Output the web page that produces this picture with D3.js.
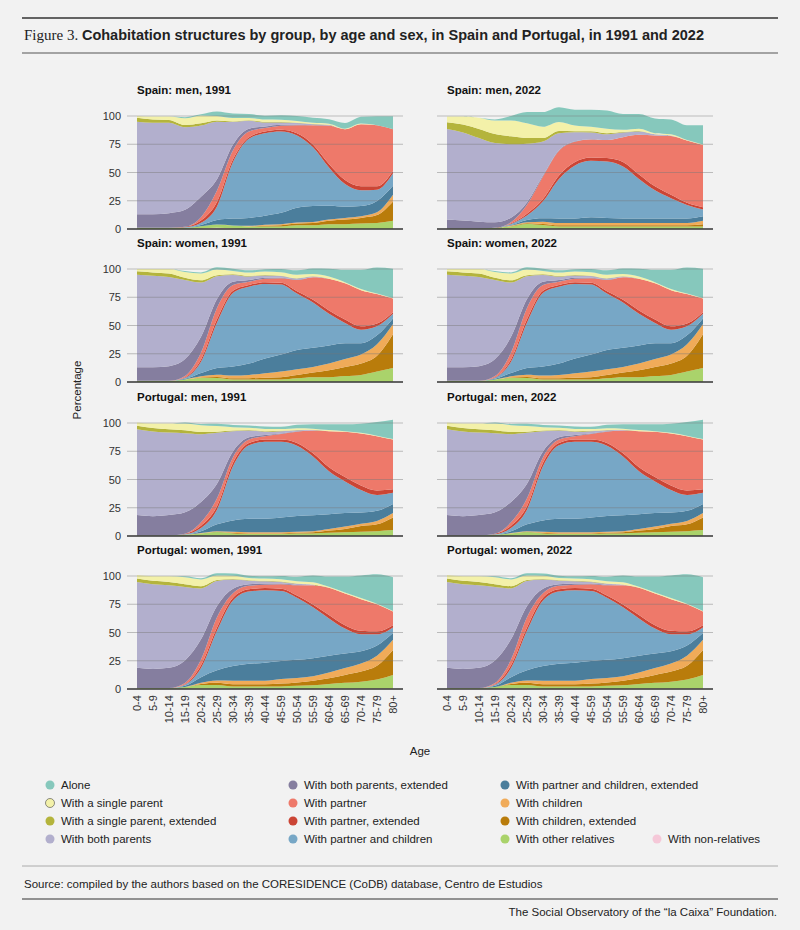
<!DOCTYPE html>
<html>
<head>
<meta charset="utf-8">
<script src="https://cdn.jsdelivr.net/npm/d3@7"></script>
<style>
  body { margin: 0; background: #f2f2f2; }
  svg { font-family: "Liberation Sans", Arial, sans-serif; }
</style>
</head>
<body>
<svg id="chart" width="800" height="930"></svg>
<script>
const ages = ["0-4","5-9","10-14","15-19","20-24","25-29","30-34","35-39","40-44","45-59","50-54","55-59","60-64","65-69","70-74","75-79","80+"];

// series keys, legend order (stack goes from the last one upward)
const keys = ["alone","sp","spExt","both","bothExt","partner","partnerExt","pc","pcExt","children","childrenExt","otherRel","nonRel"];
const labels = ["Alone","With a single parent","With a single parent, extended","With both parents","With both parents, extended",
  "With partner","With partner, extended","With partner and children","With partner and children, extended",
  "With children","With children, extended","With other relatives","With non-relatives"];
const colors = ["#86c8bc","#f3f1a9","#b4b43c","#b2afcd","#857e9f","#ee796a","#cb4535","#77a7c6","#4b7e9c","#f0ab59","#b97c0b","#aad36b","#f5c8d8"];

// each row = one series (same order as keys), 17 age groups
const spainMen1991 = [
  [0,0,0,1,1,4,4,3.5,3.5,4,4.5,4.5,4,5,6,8,11.5],
  [1.5,2.5,3,6,7,4,3,2,2,2,1.5,1,1,0.5,0.5,0,0],
  [3.5,3,2.5,2,2,1,0.5,0.5,0.5,0.3,0.3,0.2,0.2,0,0,0,0],
  [82,81,80,73,63,51,20,7,3.5,2,1.5,1,0.5,0,0,0,0],
  [12,12,13,15,18,10,5,2.5,1.5,1,0.5,0,0,0,0,0,0],
  [0,0,0,0,3,10,8,5,3,3.5,7,17,34,45,55,54,37],
  [0,0,0,0.5,2,4,2.5,1.5,1.5,1.5,2,2.5,3,3.5,3.5,3,2],
  [0,0,0,0.5,2,12,50,70,73,72,64,52,34,20,14,10,11],
  [0,0,0,0,1,4,6,7,8,10,13,14,12,10,9,10,8],
  [0,0,0,0,0,0,0.2,0.5,1,1,1,1,1.2,1.5,1.5,2.5,6],
  [0,0,0,0,0,0,0,0,0.5,1,1.5,2,3,4,5,7,17],
  [1,1,1,1,2,3,2.5,2,2,2,3,3,4,4,4.5,5,7],
  [0,0,0,0,0.5,1,0.5,0.3,0.3,0.3,0.3,0.3,0.3,0.3,0.3,0.3,0.3]
];
const spainMen2022 = [
  [0,0,0,1,4,10,13,13,14,15,16,14,13,13,13,13,17],
  [5,7,10,12,14,13,10,8,5,4,4,2,2,1,1,0.5,0.5],
  [6,7,8,8,7,5,3,2,1,1,1,0.5,0.5,0,0,0,0],
  [80,78,74,70,65,52,30,15,8,6,5,4,3,1,0.5,0,0],
  [8,7,6,5,4,2,1,0.5,0.3,0.2,0,0,0,0,0,0,0],
  [0,0,0,0,1,8,20,22,18,16,16,22,35,45,52,55,55],
  [0,0,0,0,0.5,1.5,2,3,3,3,3,4,4,3.5,3,2,2],
  [0,0,0,0,1,4,15,35,47,50,50,46,35,25,18,12,6],
  [0,0,0,0,0.5,2,3,4,4,5,4.5,4,4,4,4,4,4],
  [0,0,0,0,0.5,1,2,2,2,2,2,2,2,2,2,2,3],
  [0,0,0,0,0.2,0.5,1,1,1,1,1,1,1,1,1,1,2],
  [0.5,0.5,0.5,1,2,4,3,2,2,2,2,2,2,2,2,2,2],
  [0,0,0,0,0.3,0.5,0.5,0.3,0.3,0.3,0.3,0.3,0.3,0.3,0.3,0.3,0.3]
];
const spainWomen1991 = [
  [0,0,0,1,1,2,2,2,2,3,4,5,7,11,17,23,26],
  [2,3,4,5,6,5,3,3,3,3,3,2,2,1,1,0.5,0.5],
  [3,3,3,2,2,1,0.5,0.5,0.5,0.3,0.3,0.2,0,0,0,0,0],
  [82,81,79,70,48,20,6,3,2,1.5,1,0.5,0,0,0,0,0],
  [12,12,13,15,14,8,3,1.5,1,0.5,0.3,0,0,0,0,0,0],
  [0,0,0,1,6,10,5,3,3,4,10,20,28,32,32,26,12],
  [0,0,0,0.5,2,3,2,1.5,1.5,1.5,2,2.5,3,3,3,2.5,1.5],
  [0,0,0,1,10,40,65,68,66,62,50,40,28,18,12,8,4],
  [0,0,0,0.5,3,6,8,10,13,15,17,17,16,14,10,8,5],
  [0,0,0,0,1,2,2.5,3,4,5,5,5,6,7,8,10,9],
  [0,0,0,0,0.5,1,1,1,1.5,2,3,4,6,8,10,14,30],
  [1,1,1,2,3,3,2,2,2,2,3,4,4,5,6,9,12],
  [0,0,0,0.3,0.5,0.5,0.3,0.3,0.3,0.3,0.3,0.3,0.3,0.3,0.3,0.3,0.3]
];
const spainWomen2022 = [
  [0,0,0,1,1,2,2,2,2,3,4,5,7,11,17,23,26],
  [2,3,4,5,6,5,3,3,3,3,3,2,2,1,1,0.5,0.5],
  [3,3,3,2,2,1,0.5,0.5,0.5,0.3,0.3,0.2,0,0,0,0,0],
  [82,81,79,70,48,20,6,3,2,1.5,1,0.5,0,0,0,0,0],
  [12,12,13,15,14,8,3,1.5,1,0.5,0.3,0,0,0,0,0,0],
  [0,0,0,1,6,10,5,3,3,4,10,20,28,32,32,26,12],
  [0,0,0,0.5,2,3,2,1.5,1.5,1.5,2,2.5,3,3,3,2.5,1.5],
  [0,0,0,1,10,40,65,68,66,62,50,40,28,18,12,8,4],
  [0,0,0,0.5,3,6,8,10,13,15,17,17,16,14,10,8,5],
  [0,0,0,0,1,2,2.5,3,4,5,5,5,6,7,8,10,9],
  [0,0,0,0,0.5,1,1,1,1.5,2,3,4,6,8,10,14,30],
  [1,1,1,2,3,3,2,2,2,2,3,4,4,5,6,9,12],
  [0,0,0,0.3,0.5,0.5,0.3,0.3,0.3,0.3,0.3,0.3,0.3,0.3,0.3,0.3,0.3]
];
const portugalMen1991 = [
  [0,0,0,1,1,2,2,2,2,2,3,4,5,6,8,12,17],
  [3,4,5,6,6,5,3,2,2,1.5,1.5,1,1,0.5,0.5,0.5,0.5],
  [3,3,3,2.5,2,1,0.5,0.5,0.5,0.3,0.3,0.2,0,0,0,0,0],
  [76,75,73,70,60,45,18,6,3,2,1,0.5,0,0,0,0,0],
  [18,17,18,19,18,13,5,2,1,0.5,0.3,0,0,0,0,0,0],
  [0,0,0,0,3,7,5,3,3,5,10,20,32,40,46,48,44],
  [0,0,0,0.5,2,3,3,2,2,2,2.5,3,3.5,4,4,4,3],
  [0,0,0,0.5,3,13,48,65,68,67,62,52,38,28,20,14,10],
  [0,0,0,0,1.5,6,10,12,12,13,14,14,13,12,10,9,8],
  [0,0,0,0,0.3,0.5,1,1,1,1,1,1,1.5,2,2,3,4],
  [0,0,0,0,0,0.3,0.5,0.5,0.5,0.5,0.5,1,2,3,5,6,11],
  [0.5,0.5,0.5,1,2,3,2,1.5,1.5,1.5,2,2,2.5,3,3.5,4,5],
  [0,0,0,0,0.3,0.5,0.3,0.3,0.3,0.3,0.3,0.3,0.3,0.3,0.3,0.3,0.3]
];
const portugalMen2022 = [
  [0,0,0,1,1,2,2,2,2,2,3,4,5,6,8,12,17],
  [3,4,5,6,6,5,3,2,2,1.5,1.5,1,1,0.5,0.5,0.5,0.5],
  [3,3,3,2.5,2,1,0.5,0.5,0.5,0.3,0.3,0.2,0,0,0,0,0],
  [76,75,73,70,60,45,18,6,3,2,1,0.5,0,0,0,0,0],
  [18,17,18,19,18,13,5,2,1,0.5,0.3,0,0,0,0,0,0],
  [0,0,0,0,3,7,5,3,3,5,10,20,32,40,46,48,44],
  [0,0,0,0.5,2,3,3,2,2,2,2.5,3,3.5,4,4,4,3],
  [0,0,0,0.5,3,13,48,65,68,67,62,52,38,28,20,14,10],
  [0,0,0,0,1.5,6,10,12,12,13,14,14,13,12,10,9,8],
  [0,0,0,0,0.3,0.5,1,1,1,1,1,1,1.5,2,2,3,4],
  [0,0,0,0,0,0.3,0.5,0.5,0.5,0.5,0.5,1,2,3,5,6,11],
  [0.5,0.5,0.5,1,2,3,2,1.5,1.5,1.5,2,2,2.5,3,3.5,4,5],
  [0,0,0,0,0.3,0.5,0.3,0.3,0.3,0.3,0.3,0.3,0.3,0.3,0.3,0.3,0.3]
];
const portugalWomen1991 = [
  [0,0,0,1,1,2,2,2,2,3,4,6,9,14,20,26,30],
  [3,4,5,6,6,4,3,2,2,2,2,2,1,1,1,0.5,0.5],
  [3,3,3,2.5,2,1,0.5,0.5,0.5,0.3,0.3,0.2,0,0,0,0,0],
  [76,75,73,65,45,22,8,3,2,1.5,1,0.5,0,0,0,0,0],
  [18,17,18,20,18,10,4,1.5,1,0.5,0.3,0,0,0,0,0,0],
  [0,0,0,1,5,9,4,3,3,4,9,17,24,28,28,24,12],
  [0,0,0,0.5,2.5,3,2.5,2,2,2,2,2.5,3,3,3,2.5,2],
  [0,0,0,1,8,35,58,64,64,62,55,45,33,22,15,10,5],
  [0,0,0,1,5,9,13,15,16,16,16,16,15,13,11,9,6],
  [0,0,0,0,1,2,3,3,3,4,4,4,5,6,7,9,9],
  [0,0,0,0,1,2,2,2,2,2.5,3,4,5,7,9,12,22],
  [0.5,0.5,0.5,1.5,3,3,2,2,2,2,2.5,3,4,5,6,8,12],
  [0.3,0.3,0.3,0.3,0.5,0.5,0.3,0.3,0.3,0.3,0.3,0.3,0.5,0.5,0.5,0.5,0.5]
];
const portugalWomen2022 = [
  [0,0,0,1,1,2,2,2,2,3,4,6,9,14,20,26,30],
  [3,4,5,6,6,4,3,2,2,2,2,2,1,1,1,0.5,0.5],
  [3,3,3,2.5,2,1,0.5,0.5,0.5,0.3,0.3,0.2,0,0,0,0,0],
  [76,75,73,65,45,22,8,3,2,1.5,1,0.5,0,0,0,0,0],
  [18,17,18,20,18,10,4,1.5,1,0.5,0.3,0,0,0,0,0,0],
  [0,0,0,1,5,9,4,3,3,4,9,17,24,28,28,24,12],
  [0,0,0,0.5,2.5,3,2.5,2,2,2,2,2.5,3,3,3,2.5,2],
  [0,0,0,1,8,35,58,64,64,62,55,45,33,22,15,10,5],
  [0,0,0,1,5,9,13,15,16,16,16,16,15,13,11,9,6],
  [0,0,0,0,1,2,3,3,3,4,4,4,5,6,7,9,9],
  [0,0,0,0,1,2,2,2,2,2.5,3,4,5,7,9,12,22],
  [0.5,0.5,0.5,1.5,3,3,2,2,2,2,2.5,3,4,5,6,8,12],
  [0.3,0.3,0.3,0.3,0.5,0.5,0.3,0.3,0.3,0.3,0.3,0.3,0.5,0.5,0.5,0.5,0.5]
];

const yTicks = [0, 25, 50, 75, 100];
const panels = [
  { title: "Spain: men, 1991", data: spainMen1991 },
  { title: "Spain: men, 2022", data: spainMen2022 },
  { title: "Spain: women, 1991", data: spainWomen1991 },
  { title: "Spain: women, 2022", data: spainWomen2022 },
  { title: "Portugal: men, 1991", data: portugalMen1991 },
  { title: "Portugal: men, 2022", data: portugalMen2022 },
  { title: "Portugal: women, 1991", data: portugalWomen1991 },
  { title: "Portugal: women, 2022", data: portugalWomen2022 }
];

const svg = d3.select('#chart');

// header
svg.append('line').attr('x1', 22).attr('x2', 778).attr('y1', 18).attr('y2', 18).attr('stroke', '#333').attr('stroke-width', 1.5);
const head = svg.append('text').attr('x', 24).attr('y', 40).attr('font-size', 15).attr('fill', '#222');
head.append('tspan').attr('font-family', '"Liberation Serif", serif').text('Figure 3.  ');
head.append('tspan').attr('font-weight', 'bold').attr('font-size', 14.5).text('Cohabitation structures by group, by age and sex, in Spain and Portugal, in 1991 and 2022');
svg.append('line').attr('x1', 22).attr('x2', 778).attr('y1', 53).attr('y2', 53).attr('stroke', '#555').attr('stroke-width', 1);

const plotH = 113;
const rowTops = [116, 269, 423, 576];
const colLeft = [137, 447];
const plotW = 256;

const colorOf = d3.scaleOrdinal(keys, colors);
const stackKeys = keys.slice().reverse();

panels.forEach((p, i) => {
  const col = i % 2, row = Math.floor(i / 2);
  const g = svg.append('g').attr('transform', `translate(${colLeft[col]},${rowTops[row]})`);
  const x = d3.scalePoint(ages, [0, plotW]);
  const y = d3.scaleLinear([0, 100], [plotH, 0]);

  const rows = ages.map((a, j) => {
    const r = { age: a };
    keys.forEach((k, s) => { r[k] = p.data[s][j]; });
    return r;
  });
  const series = d3.stack().keys(stackKeys)(rows);
  const area = d3.area().x(d => x(d.data.age)).y0(d => y(d[0])).y1(d => y(d[1])).curve(d3.curveMonotoneX);

  g.selectAll('path.layer').data(series).join('path')
    .attr('class', 'layer').attr('d', area).attr('fill', d => colorOf(d.key));

  // gridlines drawn over the areas, as in the original
  g.selectAll('line.grid').data(yTicks.filter(t => t > 0)).join('line')
    .attr('x1', -10).attr('x2', plotW + 10).attr('y1', d => y(d)).attr('y2', d => y(d))
    .attr('stroke', '#777').attr('stroke-opacity', 0.45).attr('stroke-width', 1);
  g.append('line').attr('x1', -10).attr('x2', plotW + 10).attr('y1', plotH).attr('y2', plotH)
    .attr('stroke', '#333').attr('stroke-width', 1.5);

  if (col === 0) {
    const ya = g.append('g').attr('transform', 'translate(-12,0)')
      .call(d3.axisLeft(y).tickValues(yTicks).tickSize(0).tickPadding(4));
    ya.select('.domain').remove();
    ya.selectAll('text').attr('font-size', 11).attr('fill', '#333').attr('font-family', '"Liberation Sans", Arial, sans-serif');
  }

  g.append('text').attr('x', 0).attr('y', -22).attr('font-size', 11.5).attr('font-weight', 'bold')
    .attr('fill', '#111').text(p.title);

  if (row === 3) {
    const xa = g.append('g').attr('transform', `translate(0,${plotH + 4})`)
      .call(d3.axisBottom(x).tickSize(0).tickPadding(0));
    xa.select('.domain').remove();
    xa.selectAll('text').attr('font-size', 11).attr('fill', '#333')
      .attr('font-family', '"Liberation Sans", Arial, sans-serif')
      .attr('transform', 'rotate(-90)').attr('text-anchor', 'end')
      .attr('dx', '-0.2em').attr('dy', '0.35em').attr('x', 0).attr('y', 0);
  }
});

svg.append('text').attr('transform', 'translate(81,390) rotate(-90)').attr('text-anchor', 'middle')
  .attr('font-size', 11.5).attr('fill', '#222').text('Percentage');
svg.append('text').attr('x', 420).attr('y', 755).attr('text-anchor', 'middle')
  .attr('font-size', 11.5).attr('fill', '#222').text('Age');

// legend, three columns filled down
const legCols = [45, 288, 500];
const legOrder = [
  [0, 1, 2, 3], [4, 5, 6, 7], [8, 9, 10, 11, 12]
];
const legEntries = [];
legEntries.push({ i: 0, c: 0, r: 0 }, { i: 4, c: 1, r: 0 }, { i: 8, c: 2, r: 0 });
legEntries.push({ i: 1, c: 0, r: 1 }, { i: 5, c: 1, r: 1 }, { i: 9, c: 2, r: 1 });
legEntries.push({ i: 2, c: 0, r: 2 }, { i: 6, c: 1, r: 2 }, { i: 10, c: 2, r: 2 });
legEntries.push({ i: 3, c: 0, r: 3 }, { i: 7, c: 1, r: 3 }, { i: 11, c: 2, r: 3 }, { i: 12, c: 3, r: 3 });
const legX = [45, 288, 500, 652];
const lg = svg.append('g').selectAll('g').data(legEntries).join('g')
  .attr('transform', d => `translate(${legX[d.c]},${785 + d.r * 18})`);
lg.append('circle').attr('r', 4.5).attr('cx', 5).attr('cy', 0)
  .attr('fill', d => colors[d.i]).attr('stroke', d => d.i === 1 ? '#444' : 'none').attr('stroke-width', 0.6);
lg.append('text').attr('x', 16).attr('y', 4).attr('font-size', 11.5).attr('fill', '#222').text(d => labels[d.i]);

svg.append('line').attr('x1', 22).attr('x2', 778).attr('y1', 866).attr('y2', 866).attr('stroke', '#999').attr('stroke-width', 0.8);
svg.append('text').attr('x', 24).attr('y', 888).attr('font-size', 11.5).attr('fill', '#222')
  .text('Source: compiled by the authors based on the CORESIDENCE (CoDB) database, Centro de Estudios');
svg.append('line').attr('x1', 22).attr('x2', 778).attr('y1', 899).attr('y2', 899).attr('stroke', '#333').attr('stroke-width', 1.2);
svg.append('text').attr('x', 777).attr('y', 916).attr('text-anchor', 'end').attr('font-size', 11.5).attr('fill', '#222')
  .text('The Social Observatory of the \u201cla Caixa\u201d Foundation.');
</script>
</body>
</html>
